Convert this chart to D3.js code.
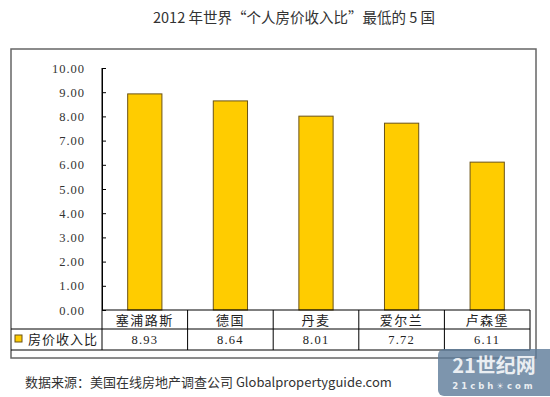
<!DOCTYPE html>
<html><head><meta charset="utf-8">
<script src="https://cdn.jsdelivr.net/npm/d3@7"></script>
<style>
body{margin:0;background:#fff;}
svg{display:block;}
</style>
</head><body>
<svg id="c" width="550" height="397"></svg>
<script>
const categories = ["塞浦路斯","德国","丹麦","爱尔兰","卢森堡"];
const values = [8.93, 8.64, 8.01, 7.72, 6.11];
const seriesName = "房价收入比";
const yTicks = [0,1,2,3,4,5,6,7,8,9,10];
const title = "2012 年世界“个人房价收入比”最低的 5 国";
const source = "数据来源：美国在线房地产调查公司 Globalpropertyguide.com";

(function(){
const svg = d3.select("#c");
const cjk = "'Noto Sans CJK SC', sans-serif";
const numFont = "'Liberation Serif', 'DejaVu Serif', serif";

// title
svg.append("text").attr("x", 294).attr("y", 23).attr("text-anchor","middle")
  .attr("font-family", cjk).attr("font-size", 14.5).attr("fill","#333").text(title);

// outer frame
svg.append("rect").attr("x",11).attr("y",49).attr("width",525).attr("height",309)
  .attr("fill","#fff").attr("stroke","#666").attr("stroke-width",1.5);

const pLeft = 102, pRight = 530, pTop = 68, pBottom = 310;
const x = d3.scaleBand().domain(categories).range([pLeft,pRight]).paddingInner(0.6).paddingOuter(0.3);
const y = d3.scaleLinear().domain([0,10]).range([pBottom, pTop]);

// bars
svg.append("g").selectAll("rect").data(values).join("rect")
  .attr("x",(d,i)=>x(categories[i])).attr("width",x.bandwidth())
  .attr("y",d=>y(d)).attr("height",d=>y(0)-y(d))
  .attr("fill","#FFCC00").attr("stroke","#6b5317").attr("stroke-width",1);

// y axis
const yAxis = d3.axisLeft(y).tickValues(yTicks).tickFormat(d3.format(".2f"))
  .tickSizeInner(-4).tickSizeOuter(0).tickPadding(17);
const ga = svg.append("g").attr("transform",`translate(${pLeft},0)`).call(yAxis);
ga.selectAll("path,line").attr("stroke","#000");
ga.selectAll("text").attr("font-family",numFont).attr("font-size",12.5)
  .attr("letter-spacing",1).attr("fill","#333");

// table
const row1 = pBottom, row2 = 329, row3 = 350;
const tg = svg.append("g").attr("stroke","#000").attr("stroke-width",1);
tg.append("line").attr("x1",pLeft).attr("x2",pRight).attr("y1",row1).attr("y2",row1);
tg.append("line").attr("x1",11).attr("x2",pRight).attr("y1",row2).attr("y2",row2);
tg.append("line").attr("x1",11).attr("x2",pRight).attr("y1",row3).attr("y2",row3);
const bounds = categories.map(c=>x(c)-x.step()*x.paddingInner()/2).concat([pRight]);
bounds[0] = pLeft;
tg.selectAll("line.v").data(bounds).join("line").attr("class","v")
  .attr("x1",d=>d).attr("x2",d=>d).attr("y1",(d,i)=>i===0?pTop:row1).attr("y2",row3);

svg.append("g").selectAll("text").data(categories).join("text")
  .attr("x",d=>x(d)+x.bandwidth()/2).attr("y",325).attr("text-anchor","middle")
  .attr("font-family",cjk).attr("font-size",13).attr("letter-spacing",1.5).attr("fill","#222").text(d=>d);

svg.append("g").selectAll("text").data(values).join("text")
  .attr("x",(d,i)=>x(categories[i])+x.bandwidth()/2).attr("y",344).attr("text-anchor","middle")
  .attr("font-family",numFont).attr("font-size",12.5).attr("letter-spacing",1.2).attr("fill","#222").text(d=>d3.format(".2f")(d));

// legend
svg.append("rect").attr("x",15).attr("y",335).attr("width",7).attr("height",7)
  .attr("fill","#FFCC00").attr("stroke","#6b5317");
svg.append("text").attr("x",28).attr("y",344).attr("font-family",cjk).attr("font-size",13)
  .attr("letter-spacing",1).attr("fill","#222").text(seriesName);

// source
svg.append("text").attr("x",25).attr("y",387).attr("font-family",cjk).attr("font-size",13)
  .attr("fill","#333").text(source);

// watermark
const wm = svg.append("g");
wm.append("rect").attr("x",438).attr("y",349).attr("width",120).attr("height",47).attr("rx",6)
  .attr("fill","#5d7b99").attr("fill-opacity",0.8);
wm.append("text").attr("x",494).attr("y",373).attr("text-anchor","middle")
  .attr("font-family",cjk).attr("font-weight","bold").attr("font-size",20).attr("fill","#fff").attr("fill-opacity",0.85).text("21世纪网");
wm.append("text").attr("x",494).attr("y",389).attr("text-anchor","middle")
  .attr("font-family","'DejaVu Sans', sans-serif").attr("font-weight","bold").attr("font-size",8.5).attr("letter-spacing",3)
  .attr("fill","#fff").attr("fill-opacity",0.85).text("21cbh☀com");
})();
</script>
</body></html>
